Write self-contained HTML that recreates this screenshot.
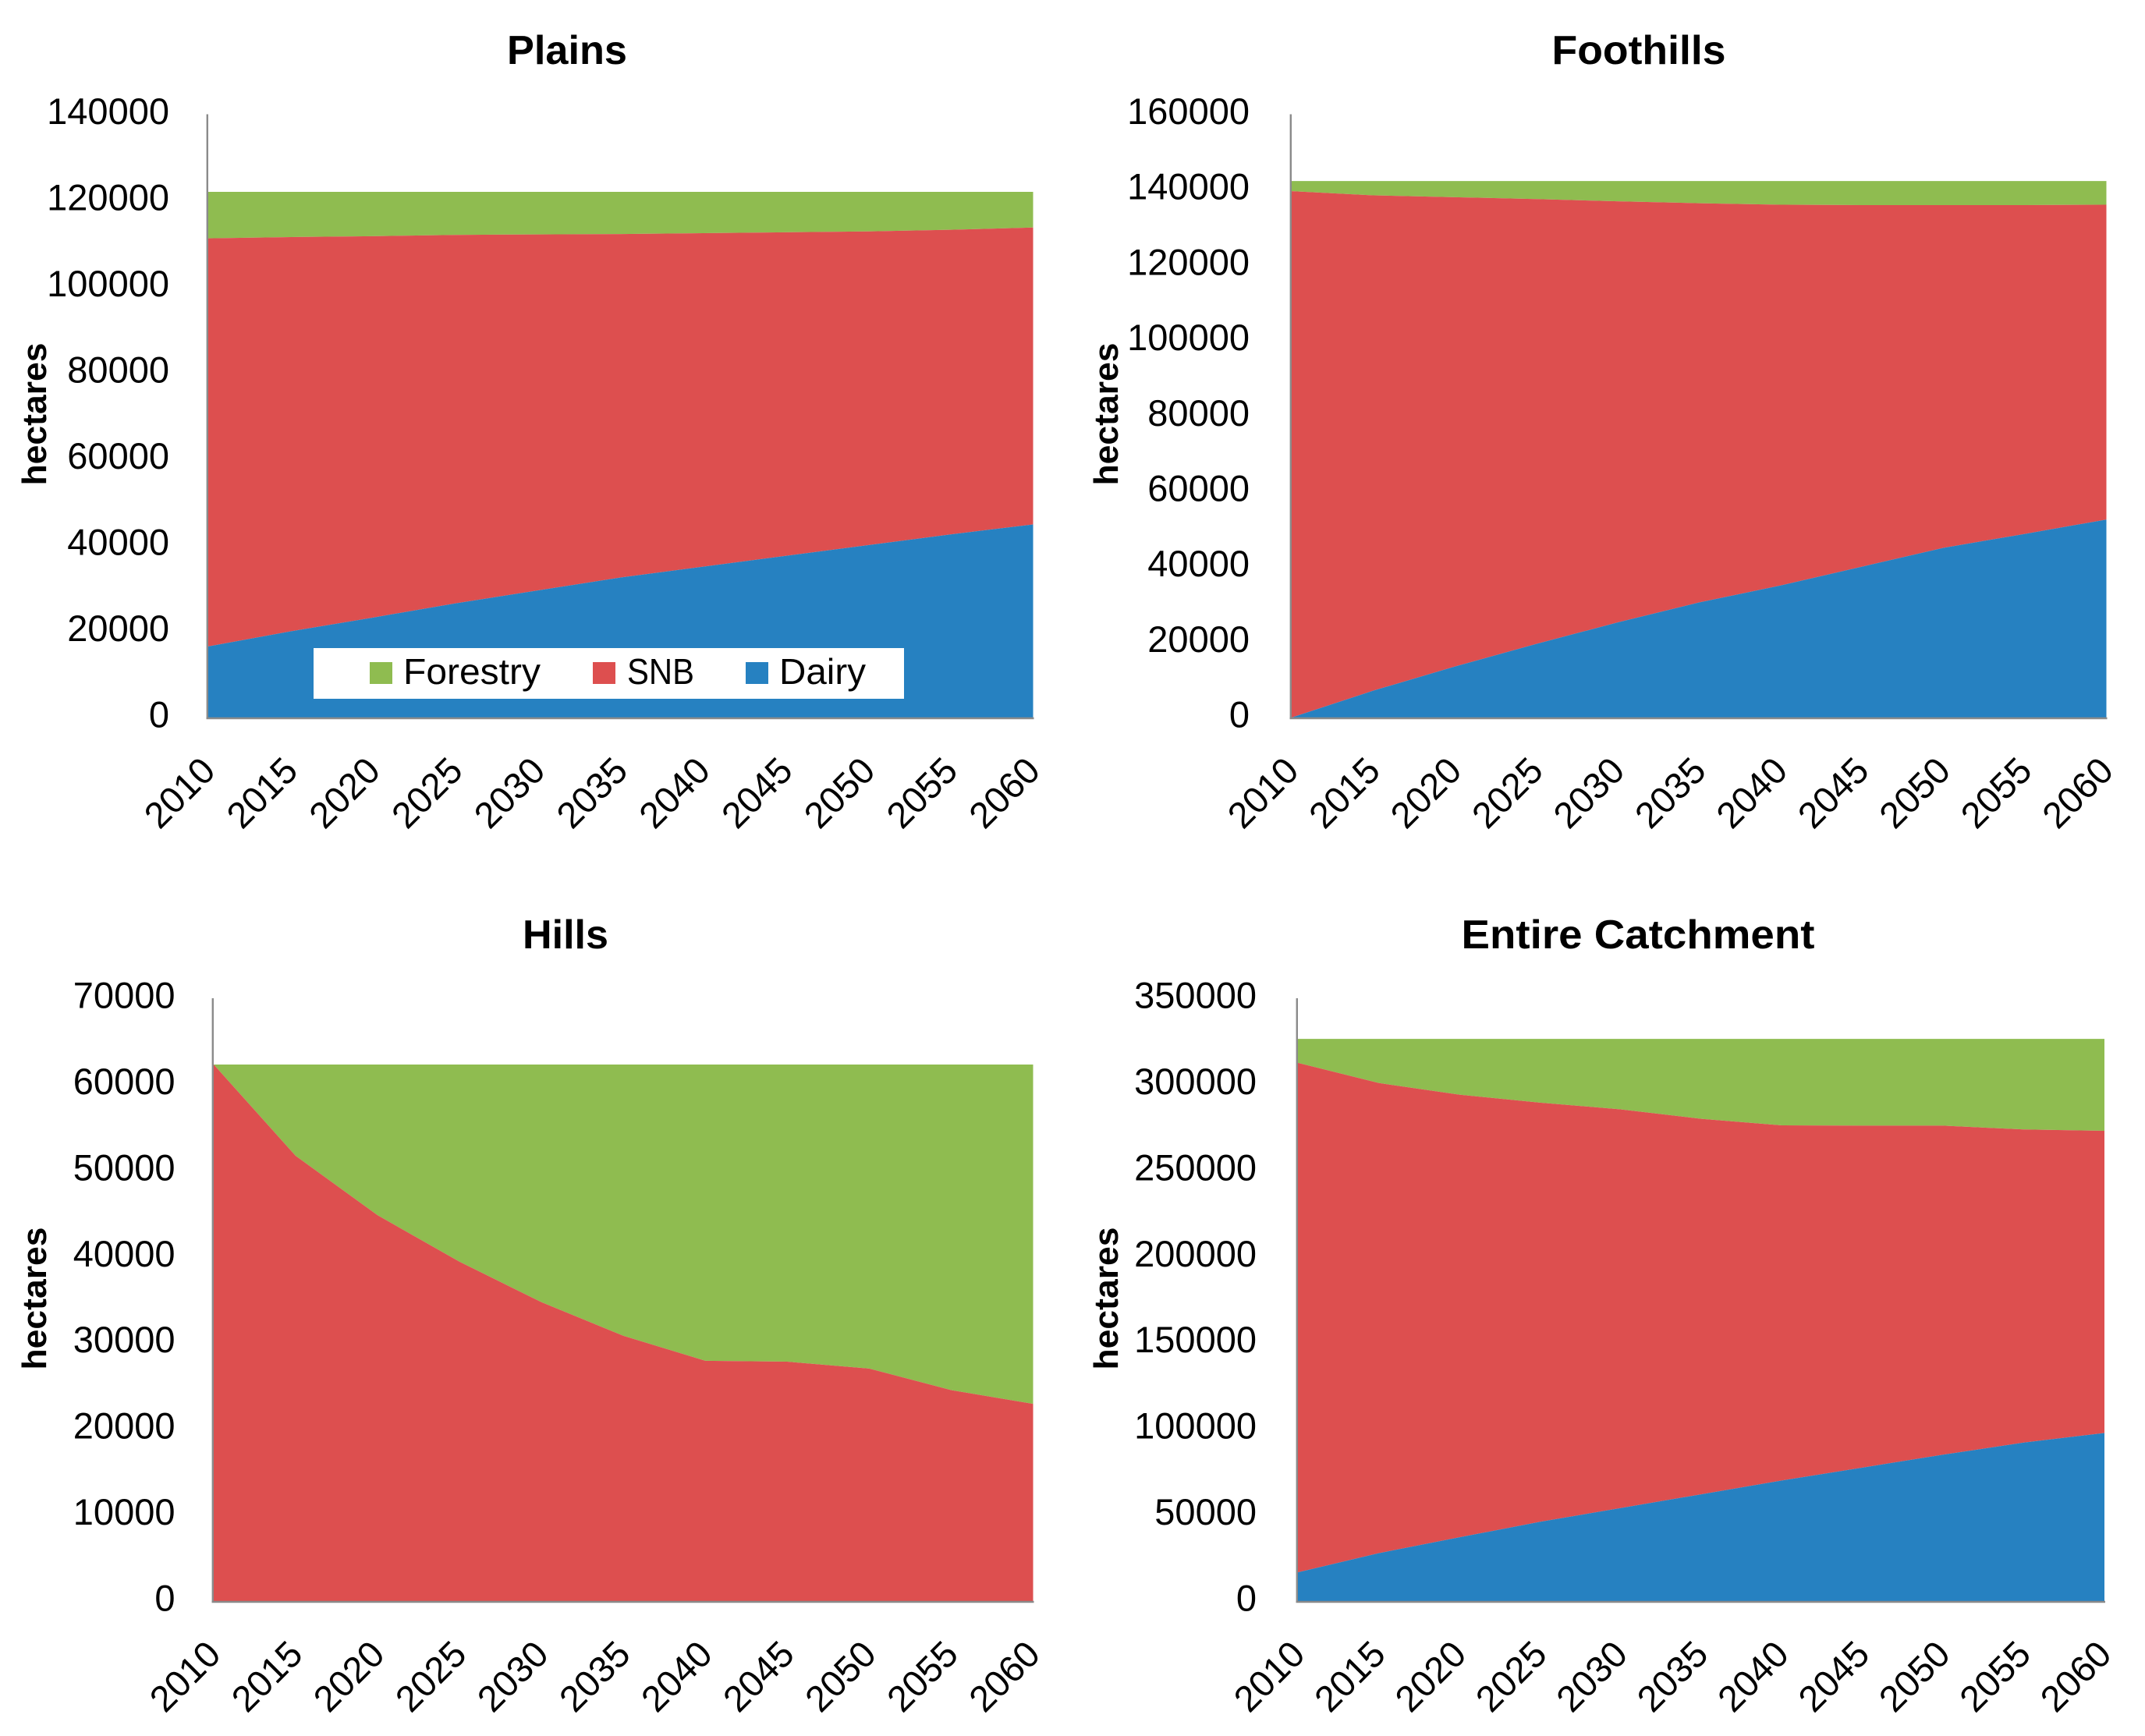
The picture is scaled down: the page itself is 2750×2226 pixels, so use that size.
<!DOCTYPE html>
<html lang="en">
<head>
<meta charset="utf-8">
<title>Land use projections by zone</title>
<style>
html,body{margin:0;padding:0;background:#fff;width:2750px;height:2226px;overflow:hidden}
svg{display:block}
text{font-family:"Liberation Sans",sans-serif;fill:#000}
.title{font-size:52px;font-weight:bold;text-anchor:middle}
.ytitle{font-size:44px;font-weight:bold;text-anchor:middle}
.tick{font-size:47px}
.legend-text{font-size:46px}
</style>
</head>
<body>
<svg id="figure" xmlns="http://www.w3.org/2000/svg" width="2750" height="2226" viewBox="0 0 2750 2226">
  <rect x="0" y="0" width="2750" height="2226" fill="#fff"/>

  <g id="panel-plains"></g>
  <g id="panel-foothills"></g>
  <g id="panel-hills"></g>
  <g id="panel-entire"></g>

  <text class="title" x="727" y="82" textLength="154" lengthAdjust="spacingAndGlyphs">Plains</text>
  <text class="title" x="2101" y="82" textLength="223" lengthAdjust="spacingAndGlyphs">Foothills</text>
  <text class="title" x="725" y="1216" textLength="110" lengthAdjust="spacingAndGlyphs">Hills</text>
  <text class="title" x="2100" y="1216" textLength="453" lengthAdjust="spacingAndGlyphs">Entire Catchment</text>

  <text class="ytitle" transform="translate(59 531) rotate(-90)" textLength="183" lengthAdjust="spacingAndGlyphs">hectares</text>
  <text class="ytitle" transform="translate(1433 531) rotate(-90)" textLength="183" lengthAdjust="spacingAndGlyphs">hectares</text>
  <text class="ytitle" transform="translate(59 1665) rotate(-90)" textLength="183" lengthAdjust="spacingAndGlyphs">hectares</text>
  <text class="ytitle" transform="translate(1433 1665) rotate(-90)" textLength="183" lengthAdjust="spacingAndGlyphs">hectares</text>

  <g>
    <rect x="402" y="831" width="757" height="65" fill="#fff"/>
    <rect x="474" y="849" width="29" height="28" fill="#8FBC50"/>
    <text class="legend-text" x="517" y="877" textLength="176" lengthAdjust="spacingAndGlyphs">Forestry</text>
    <rect x="760" y="849" width="29" height="28" fill="#DD4F4F"/>
    <text class="legend-text" x="804" y="877" textLength="86" lengthAdjust="spacingAndGlyphs">SNB</text>
    <rect x="956" y="849" width="29" height="28" fill="#2681C1"/>
    <text class="legend-text" x="999" y="877" textLength="111" lengthAdjust="spacingAndGlyphs">Dairy</text>
  </g>
</svg>

<script>
const years = [2010, 2015, 2020, 2025, 2030, 2035, 2040, 2045, 2050, 2055, 2060];

const plainsTicks = [0, 20000, 40000, 60000, 80000, 100000, 120000, 140000];
const plainsDairy = [16500, 20000, 23200, 26500, 29500, 32500, 35000, 37500, 40000, 42500, 44800];
const plainsSnb = [94700, 91500, 88500, 85500, 82600, 79700, 77400, 75100, 72800, 70700, 68900];
const plainsForestry = [10800, 10500, 10300, 10000, 9900, 9800, 9600, 9400, 9200, 8800, 8300];

const foothillsTicks = [0, 20000, 40000, 60000, 80000, 100000, 120000, 140000, 160000];
const foothillsDairy = [0, 7100, 13500, 19500, 25200, 30500, 35000, 40000, 45000, 48700, 52500];
const foothillsSnb = [139600, 131400, 124500, 118000, 111700, 105900, 101000, 95900, 90900, 87200, 83500];
const foothillsForestry = [2700, 3800, 4300, 4800, 5400, 5900, 6300, 6400, 6400, 6400, 6300];

const hillsTicks = [0, 10000, 20000, 30000, 40000, 50000, 60000, 70000];
const hillsDairy = [0, 0, 0, 0, 0, 0, 0, 0, 0, 0, 0];
const hillsSnb = [62300, 51700, 44800, 39400, 34700, 30800, 27900, 27800, 27000, 24500, 22900];
const hillsForestry = [0, 10600, 17500, 22900, 27600, 31500, 34400, 34500, 35300, 37800, 39400];

const entireTicks = [0, 50000, 100000, 150000, 200000, 250000, 300000, 350000];
const entireDairy = [16700, 27800, 37000, 46000, 54000, 62000, 70000, 77500, 85000, 92000, 97600];
const entireSnb = [295800, 273000, 257000, 243400, 231500, 218000, 206200, 198500, 191000, 181800, 175400];
const entireForestry = [13900, 25600, 32400, 37000, 40900, 46400, 50200, 50400, 50400, 52600, 53400];

const SVG_NS = 'http://www.w3.org/2000/svg';

function drawPanel(groupId, prefix, frame, ticks, dairy, snb, forestry) {
  const group = document.getElementById(groupId);
  const maxValue = ticks[ticks.length - 1];
  const xAxis = function (i) {
    return frame.left + (frame.right - frame.left) * i / (years.length - 1);
  };
  const yAxis = function (v) {
    return frame.bottom - (frame.bottom - frame.top) * v / maxValue;
  };

  const layers = [
    { key: 'forestry', values: forestry, color: '#8FBC50' },
    { key: 'snb', values: snb, color: '#DD4F4F' },
    { key: 'dairy', values: dairy, color: '#2681C1' }
  ];
  const below = { forestry: [], snb: [], dairy: [] };
  years.forEach(function (_, i) {
    below.dairy.push(0);
    below.snb.push(dairy[i]);
    below.forestry.push(dairy[i] + snb[i]);
  });

  layers.forEach(function (layer) {
    const base = below[layer.key];
    let d = '';
    years.forEach(function (_, i) {
      d += (i === 0 ? 'M' : 'L') + xAxis(i).toFixed(2) + ' ' + yAxis(base[i] + layer.values[i]).toFixed(2) + ' ';
    });
    for (let i = years.length - 1; i >= 0; i--) {
      d += 'L' + xAxis(i).toFixed(2) + ' ' + yAxis(base[i]).toFixed(2) + ' ';
    }
    const area = document.createElementNS(SVG_NS, 'path');
    area.setAttribute('d', d + 'Z');
    area.setAttribute('fill', layer.color);
    
    
    group.appendChild(area);
  });

  const yLine = document.createElementNS(SVG_NS, 'line');
  yLine.setAttribute('x1', frame.left - 1.2);
  yLine.setAttribute('x2', frame.left - 1.2);
  yLine.setAttribute('y1', frame.top);
  yLine.setAttribute('y2', frame.bottom + 2);
  yLine.setAttribute('stroke', '#8A8A8A');
  yLine.setAttribute('stroke-width', '2.4');
  
  
  group.appendChild(yLine);

  const xLine = document.createElementNS(SVG_NS, 'line');
  xLine.setAttribute('x1', frame.left - 2.4);
  xLine.setAttribute('x2', frame.right + 1);
  xLine.setAttribute('y1', frame.bottom + 1);
  xLine.setAttribute('y2', frame.bottom + 1);
  xLine.setAttribute('stroke', '#8A8A8A');
  xLine.setAttribute('stroke-width', '2.4');
  
  
  group.appendChild(xLine);

  ticks.forEach(function (tick) {
    const label = document.createElementNS(SVG_NS, 'text');
    label.setAttribute('class', 'tick');
    label.setAttribute('x', frame.labelRight);
    label.setAttribute('y', yAxis(tick) + 12.5);
    label.setAttribute('text-anchor', 'end');
    
    
    label.textContent = String(tick);
    group.appendChild(label);
  });

  years.forEach(function (year, i) {
    const ax = xAxis(i) + 11.5;
    const ay = frame.bottom + 71;
    const label = document.createElementNS(SVG_NS, 'text');
    label.setAttribute('class', 'tick');
    label.setAttribute('text-anchor', 'end');
    label.setAttribute('transform', 'translate(' + ax.toFixed(2) + ' ' + ay + ') rotate(-45)');
    
    
    label.textContent = String(year);
    group.appendChild(label);
  });
}

drawPanel('panel-plains', 'plains',
  { left: 267, right: 1324.5, top: 146.5, bottom: 920, labelRight: 217 },
  plainsTicks, plainsDairy, plainsSnb, plainsForestry);
drawPanel('panel-foothills', 'foothills',
  { left: 1656, right: 2700.5, top: 146.5, bottom: 920, labelRight: 1602 },
  foothillsTicks, foothillsDairy, foothillsSnb, foothillsForestry);
drawPanel('panel-hills', 'hills',
  { left: 274, right: 1324.5, top: 1280, bottom: 2053, labelRight: 224.5 },
  hillsTicks, hillsDairy, hillsSnb, hillsForestry);
drawPanel('panel-entire', 'entire-catchment',
  { left: 1664, right: 2698, top: 1280, bottom: 2053, labelRight: 1611 },
  entireTicks, entireDairy, entireSnb, entireForestry);
</script>
</body>
</html>
